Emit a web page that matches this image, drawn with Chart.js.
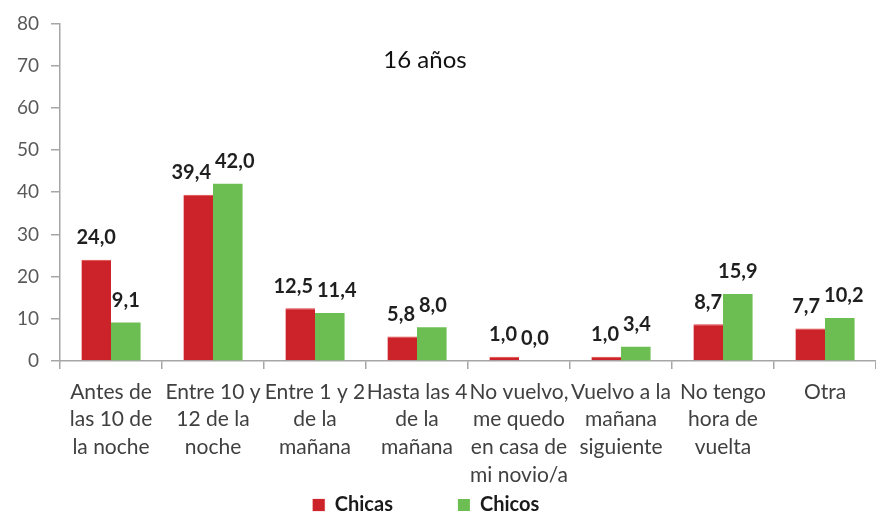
<!DOCTYPE html>
<html>
<head>
<meta charset="utf-8">
<script src="https://cdn.jsdelivr.net/npm/chart.js@4"></script>
<style>
  html, body { margin: 0; padding: 0; background: #fff; }
  #wrap { width: 876px; height: 518px; overflow: hidden; }
</style>
</head>
<body>
<div id="wrap"><canvas id="chart" width="876" height="525"></canvas></div>
<script>
// Datos
const categories = [
    ['Antes de', 'las 10 de', 'la noche'],
    ['Entre 10 y', '12 de la', 'noche'],
    ['Entre 1 y 2', 'de la', 'mañana'],
    ['Hasta las 4', 'de la', 'mañana'],
    ['No vuelvo,', 'me quedo', 'en casa de', 'mi novio/a'],
    ['Vuelvo a la', 'mañana', 'siguiente'],
    ['No tengo', 'hora de', 'vuelta'],
    ['Otra']
];
const chicas = [24.0, 39.4, 12.5, 5.8, 1.0, 1.0, 8.7, 7.7];
const chicos = [9.1, 42.0, 11.4, 8.0, 0.0, 3.4, 15.9, 10.2];
const seriesNames = ['Chicas', 'Chicos'];
const chartTitle = '16 años';

const FONT = 'Lato, "Open Sans", sans-serif';

// etiquetas de valor encima de cada barra
// si las dos etiquetas de un grupo se pisan, se separan un poco (como hace Excel)
const valueLabels = {
    id: 'valueLabels',
    afterDatasetsDraw(chart) {
        const ctx = chart.ctx;
        ctx.save();
        ctx.font = 'bold 20px ' + FONT;
        ctx.fillStyle = '#1f1f1f';
        ctx.textAlign = 'center';
        ctx.textBaseline = 'middle';
        const m0 = chart.getDatasetMeta(0);
        const m1 = chart.getDatasetMeta(1);
        const d0 = chart.data.datasets[0].data;
        const d1 = chart.data.datasets[1].data;
        d0.forEach((v, j) => {
            const b0 = m0.data[j], b1 = m1.data[j];
            const t0 = v.toFixed(1).replace('.', ',');
            const t1 = d1[j].toFixed(1).replace('.', ',');
            const w0 = ctx.measureText(t0).width;
            const w1 = ctx.measureText(t1).width;
            let x0 = b0.x, x1 = b1.x;
            const overlap = (w0 + w1) / 2 + 4 - (x1 - x0);
            if (overlap > 0 && Math.abs(b0.y - b1.y) < 20) {
                x0 -= overlap / 2;
                x1 += overlap / 2;
            }
            ctx.fillText(t0, x0, b0.y - 22);
            ctx.fillText(t1, x1, b1.y - 22);
        });
        ctx.restore();
    }
};

const titleText = {
    id: 'titleText',
    afterDraw(chart) {
        const ctx = chart.ctx;
        ctx.save();
        ctx.font = '24px ' + FONT;
        ctx.fillStyle = '#111';
        ctx.textAlign = 'center';
        ctx.textBaseline = 'middle';
        ctx.fillText(chartTitle, 425, 60);
        ctx.restore();
    }
};

new Chart(document.getElementById('chart'), {
    type: 'bar',
    data: {
        labels: categories,
        datasets: [
            {
                label: seriesNames[0],
                data: chicas,
                backgroundColor: '#cc2229',
                borderColor: '#e0443f',
                borderWidth: { top: 1, left: 0, right: 0, bottom: 0 },
                barPercentage: 1,
                categoryPercentage: 0.58
            },
            {
                label: seriesNames[1],
                data: chicos,
                backgroundColor: '#6dbe52',
                borderWidth: 0,
                barPercentage: 1,
                categoryPercentage: 0.58
            }
        ]
    },
    options: {
        responsive: false,
        animation: false,
        // padding izquierdo negativo para centrar la leyenda como en el original
        layout: { padding: { top: 8, right: 0, left: -24, bottom: 0 } },
        plugins: {
            legend: {
                position: 'bottom',
                labels: {
                    boxWidth: 12,
                    boxHeight: 12,
                    padding: 65,
                    color: '#1a1a1a',
                    font: { family: FONT, size: 20, weight: 'bold' }
                }
            },
            tooltip: { enabled: false },
            title: { display: false }
        },
        scales: {
            x: {
                grid: {
                    drawOnChartArea: false,
                    tickLength: 8,
                    color: '#a6a6a6',
                    lineWidth: 1.5
                },
                border: { color: '#a6a6a6', width: 1.5 },
                ticks: {
                    autoSkip: false,
                    maxRotation: 0,
                    padding: 9,
                    color: '#404040',
                    font: { family: FONT, size: 21, lineHeight: 1.32 }
                },
                afterFit(scale) {
                    scale.height = 69;
                    // las etiquetas de 3-4 lineas pasan por debajo del eje: sin recorte
                    scale._computeLabelArea = () => undefined;
                }
            },
            y: {
                min: 0,
                max: 80,
                ticks: {
                    stepSize: 10,
                    color: '#595959',
                    padding: 12,
                    font: { family: FONT, size: 19 }
                },
                grid: {
                    drawOnChartArea: false,
                    tickLength: 9,
                    color: '#a6a6a6',
                    lineWidth: 1.5
                },
                border: { color: '#a6a6a6', width: 1.5 },
                afterFit(scale) { scale.width = 84; }
            }
        }
    },
    plugins: [valueLabels, titleText]
});
</script>
</body>
</html>
